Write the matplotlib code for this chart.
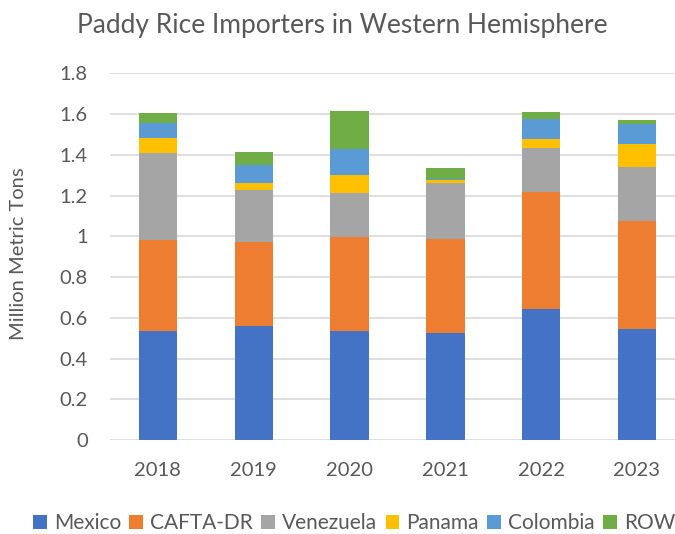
import matplotlib
matplotlib.use("Agg")
import matplotlib.pyplot as plt
import numpy as np

years = ["2018", "2019", "2020", "2021", "2022", "2023"]
series_names = ["Mexico", "CAFTA-DR", "Venezuela", "Panama", "Colombia", "ROW"]
mexico    = [0.534, 0.562, 0.534, 0.527, 0.644, 0.547]
cafta_dr  = [0.446, 0.408, 0.462, 0.459, 0.573, 0.528]
venezuela = [0.430, 0.259, 0.214, 0.274, 0.215, 0.265]
panama    = [0.072, 0.032, 0.092, 0.016, 0.044, 0.115]
colombia  = [0.074, 0.089, 0.126, 0.005, 0.098, 0.095]
row       = [0.051, 0.064, 0.187, 0.054, 0.035, 0.019]
colors = ["#4472C4", "#ED7D31", "#A5A5A5", "#FFC000", "#5B9BD5", "#70AD47"]
yticks = [0, 0.2, 0.4, 0.6, 0.8, 1, 1.2, 1.4, 1.6, 1.8]
ytick_labels = ["0", "0.2", "0.4", "0.6", "0.8", "1", "1.2", "1.4", "1.6", "1.8"]

plt.rcParams['font.family'] = ['Lato', 'DejaVu Sans']
txt = "#595959"

fig = plt.figure(figsize=(6.75, 5.34), dpi=100)
ax = fig.add_axes([110/675, 1 - 440/534, (675 - 110)/675, (440 - 73.3)/534])

x = np.arange(len(years))
bottom = np.zeros(len(years))
handles = []
for name, vals, c in zip(series_names, [mexico, cafta_dr, venezuela, panama, colombia, row], colors):
    b = ax.bar(x, vals, width=0.40, bottom=bottom, color=c, label=name, zorder=3)
    handles.append(b)
    bottom += np.array(vals)

ax.set_xlim(-0.5, 5.397)
ax.set_ylim(0, 1.8)
ax.set_yticks(yticks)
ax.set_yticklabels(ytick_labels)
ax.set_xticks(x)
ax.set_xticklabels(years)
ax.tick_params(axis='both', length=0, labelsize=14.5, colors=txt)
ax.tick_params(axis='y', pad=16)
ax.tick_params(axis='x', pad=16)
ax.grid(axis='y', color="#D9D9D9", linewidth=1.2, zorder=0)
for s in ax.spines.values():
    s.set_visible(False)

fig.text(19/675, 1 - 254/534, "Million Metric Tons", rotation=90, ha='center', va='center',
         fontsize=14.5, color=txt)
fig.text(342/675, 1 - 25/534, "Paddy Rice Importers in Western Hemisphere", ha='center', va='center',
         fontsize=19, color=txt)

leg = fig.legend(handles=handles, labels=series_names, loc='center left',
                 bbox_to_anchor=(33/675, 1 - 523/534), ncol=6, frameon=False,
                 fontsize=15, handlelength=0.65, handleheight=0.65, handletextpad=0.35,
                 columnspacing=0.4, borderaxespad=0, borderpad=0)
for t in leg.get_texts():
    t.set_color(txt)

fig.savefig("out.png", dpi=100)
